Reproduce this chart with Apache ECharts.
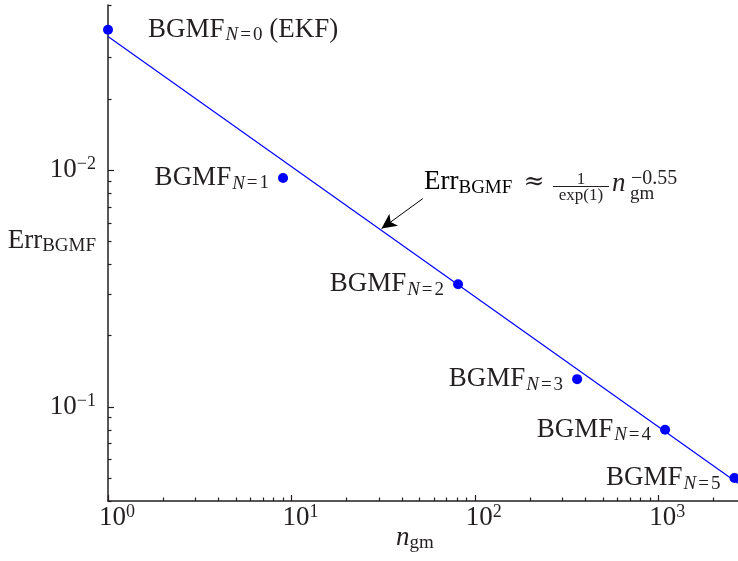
<!DOCTYPE html>
<html>
<head>
<meta charset="utf-8">
<script src="https://cdn.jsdelivr.net/npm/echarts@6/dist/echarts.min.js"></script>
<style>
  html, body { margin: 0; padding: 0; background: #ffffff; }
  #chart { width: 738px; height: 561px; }
</style>
</head>
<body>
<div id="chart"></div>
<script>
// BGMF error against the number of Gaussian mixture components (log-log)
const bgmfOrder = [0, 1, 2, 3, 4, 5];
const nGm = [1, 9, 81, 361, 1089, 2601];
const errBGMF = [0.393, 0.0928, 0.0330, 0.0131, 0.0080, 0.0050];
const labelSuffix = [' (EKF)', '', '', '', '', ''];

// fitted power law shown in the annotation: Err ≈ n^-0.55 / exp(1)
const fitCoef = 1 / Math.E;
const fitExp = -0.55;

// annotation arrow (tail near the formula, head on the fitted line)
const arrowTail = [52, 0.0759];
const arrowHead = [31, 0.0567];

// axis extents and tick labels
const xMin = 1, xMax = 2720;
const yMin = 0.004, yMax = 0.5;
const xMajorTicks = [1, 10, 100, 1000];
const xTickExponents = ['0', '1', '2', '3'];
const yMajorTicks = [0.1, 0.01];
const yTickExponents = ['\u22122', '\u22121'];

const L = Math.log10;
const FONT = 'Liberation Serif';
const INK = '#231f20';
const BLUE = '#0000ff';

function minorTicks(lo, hi) {
  const out = [];
  for (let m = Math.floor(L(lo)); m <= Math.ceil(L(hi)); m++) {
    for (let k = 2; k <= 9; k++) {
      const v = k * Math.pow(10, m);
      if (v >= lo - 1e-12 && v <= hi + 1e-12) out.push(L(v));
    }
  }
  return out;
}

const rich = {
  b:  { fontFamily: FONT, fontSize: 27, lineHeight: 30, color: INK },
  bi: { fontFamily: FONT, fontSize: 27, lineHeight: 30, color: INK, fontStyle: 'italic' },
  s:  { fontFamily: FONT, fontSize: 19, lineHeight: 18, verticalAlign: 'bottom', color: INK },
  se: { fontFamily: FONT, fontSize: 19, lineHeight: 18, verticalAlign: 'bottom', color: INK, padding: [0, 2, 0, 2] },
  si: { fontFamily: FONT, fontSize: 19, lineHeight: 18, verticalAlign: 'bottom', color: INK, fontStyle: 'italic', padding: [0, 0, 0, 1] },
  p:  { fontFamily: FONT, fontSize: 18, lineHeight: 16, verticalAlign: 'top', color: INK }
};

const fit = n => fitCoef * Math.pow(n, fitExp);
const fitLine = [xMin, xMax].map(n => [L(n), L(fit(n))]);

const points = nGm.map((n, i) => {
  const left = i > 0;
  return {
    value: [L(n), L(errBGMF[i])],
    label: {
      show: true,
      position: left ? 'left' : 'right',
      distance: left ? 9 : 35,
      opacity: 1,
      formatter: '{b|BGMF}{si|N}{se|=}{s|' + bgmfOrder[i] + '}' + (labelSuffix[i] ? '{b|' + labelSuffix[i] + '}' : ''),
      rich: rich
    }
  };
});

const axisLineStyle = { color: INK, width: 1.5 };
const tickStyle = { color: INK, width: 1.2 };

const option = {
  animation: false,
  backgroundColor: '#ffffff',
  grid: { left: 108, right: 0, top: 5, bottom: 60, containLabel: false, outerBoundsMode: 'none' },
  xAxis: [
    {
      type: 'value', min: L(xMin), max: L(xMax),
      axisLine: { show: true, onZero: false, lineStyle: axisLineStyle },
      splitLine: { show: false },
      axisTick: { show: true, inside: true, length: 6, customValues: xMajorTicks.map(L), lineStyle: tickStyle },
      axisLabel: {
        customValues: xMajorTicks.map(L),
        margin: 2,
        formatter: v => {
          const i = xMajorTicks.findIndex(t => Math.abs(L(t) - v) < 1e-6);
          return '{x|}{b|10}{p|' + xTickExponents[i] + '}';
        },
        rich: Object.assign({ x: { width: 18 } }, rich)
      },
      name: '{bi|n}{s|gm}',
      nameLocation: 'middle',
      nameGap: 22,
      nameMoveOverlap: false,
      nameTextStyle: { rich: rich, padding: [0, 16, 0, 0] }
    },
    {
      type: 'value', min: L(xMin), max: L(xMax), position: 'bottom',
      axisLine: { show: false, onZero: false },
      splitLine: { show: false },
      axisLabel: { show: false },
      axisTick: { show: true, inside: true, length: 3.5, customValues: minorTicks(xMin, xMax), lineStyle: tickStyle }
    }
  ],
  yAxis: [
    {
      type: 'value', min: L(yMin), max: L(yMax),
      axisLine: { show: true, onZero: false, lineStyle: axisLineStyle },
      splitLine: { show: false },
      axisTick: { show: true, inside: true, length: 6, customValues: yMajorTicks.map(L), lineStyle: tickStyle },
      axisLabel: {
        customValues: yMajorTicks.map(L),
        margin: 12,
        formatter: v => {
          const i = yMajorTicks.findIndex(t => Math.abs(L(t) - v) < 1e-6);
          return '{b|10}{p|' + yTickExponents[i] + '}';
        },
        rich: rich
      },
      name: '{b|Err}{s|BGMF}',
      nameLocation: 'middle',
      nameRotate: 0,
      nameGap: 12,
      nameMoveOverlap: false,
      nameTextStyle: { rich: rich, padding: [0, 0, 24, 0] }
    },
    {
      type: 'value', min: L(yMin), max: L(yMax), position: 'left',
      axisLine: { show: false, onZero: false },
      splitLine: { show: false },
      axisLabel: { show: false },
      axisTick: { show: true, inside: true, length: 3.5, customValues: minorTicks(yMin, yMax), lineStyle: tickStyle }
    }
  ],
  series: [
    {
      name: 'fit',
      type: 'line',
      xAxisIndex: 0, yAxisIndex: 0,
      data: fitLine,
      showSymbol: false,
      symbol: 'none',
      lineStyle: { color: BLUE, width: 1.2 },
      silent: true,
      z: 2,
      markLine: {
        silent: true,
        symbol: ['none', 'arrow'],
        symbolSize: [11, 15],
        lineStyle: { color: '#000000', width: 1, type: 'solid' },
        label: { show: false },
        data: [[
          { coord: [L(arrowTail[0]), L(arrowTail[1])] },
          { coord: [L(arrowHead[0]), L(arrowHead[1])] }
        ]]
      }
    },
    {
      name: 'BGMF',
      type: 'scatter',
      xAxisIndex: 0, yAxisIndex: 0,
      data: points,
      symbol: 'circle',
      symbolSize: 10,
      itemStyle: { color: BLUE, opacity: 1 },
      clip: false,
      z: 3
    }
  ],
  graphic: [
    {
      type: 'text', left: 424, top: 168.6, silent: true,
      style: { text: '{b|Err}{s|BGMF}', rich: rich }
    },
    {
      type: 'text', x: 534, y: 182, silent: true,
      style: { text: '\u2248', fontFamily: 'DejaVu Serif', fontSize: 25, fill: INK, align: 'center', verticalAlign: 'middle' }
    },
    {
      type: 'text', x: 581, y: 179.3, silent: true,
      style: { text: '1', fontFamily: FONT, fontSize: 17, fill: INK, align: 'center', verticalAlign: 'middle' }
    },
    {
      type: 'line', silent: true,
      shape: { x1: 553, y1: 186.5, x2: 609, y2: 186.5 },
      style: { stroke: INK, lineWidth: 1.2 }
    },
    {
      type: 'text', x: 581, y: 195.3, silent: true,
      style: { text: 'exp(1)', fontFamily: FONT, fontSize: 17, fill: INK, align: 'center', verticalAlign: 'middle' }
    },
    {
      type: 'text', x: 612, y: 183.6, silent: true,
      style: { text: 'n', fontFamily: FONT, fontSize: 27, fontStyle: 'italic', fill: INK, align: 'left', verticalAlign: 'middle' }
    },
    {
      type: 'text', x: 630, y: 194, silent: true,
      style: { text: 'gm', fontFamily: FONT, fontSize: 19, fill: INK, align: 'left', verticalAlign: 'middle' }
    },
    {
      type: 'text', x: 631, y: 179, silent: true,
      style: { text: '\u22120.55', fontFamily: FONT, fontSize: 20, fill: INK, align: 'left', verticalAlign: 'middle' }
    }
  ]
};

const chart = echarts.init(document.getElementById('chart'), null, { renderer: 'canvas' });
chart.setOption(option);
</script>
</body>
</html>
